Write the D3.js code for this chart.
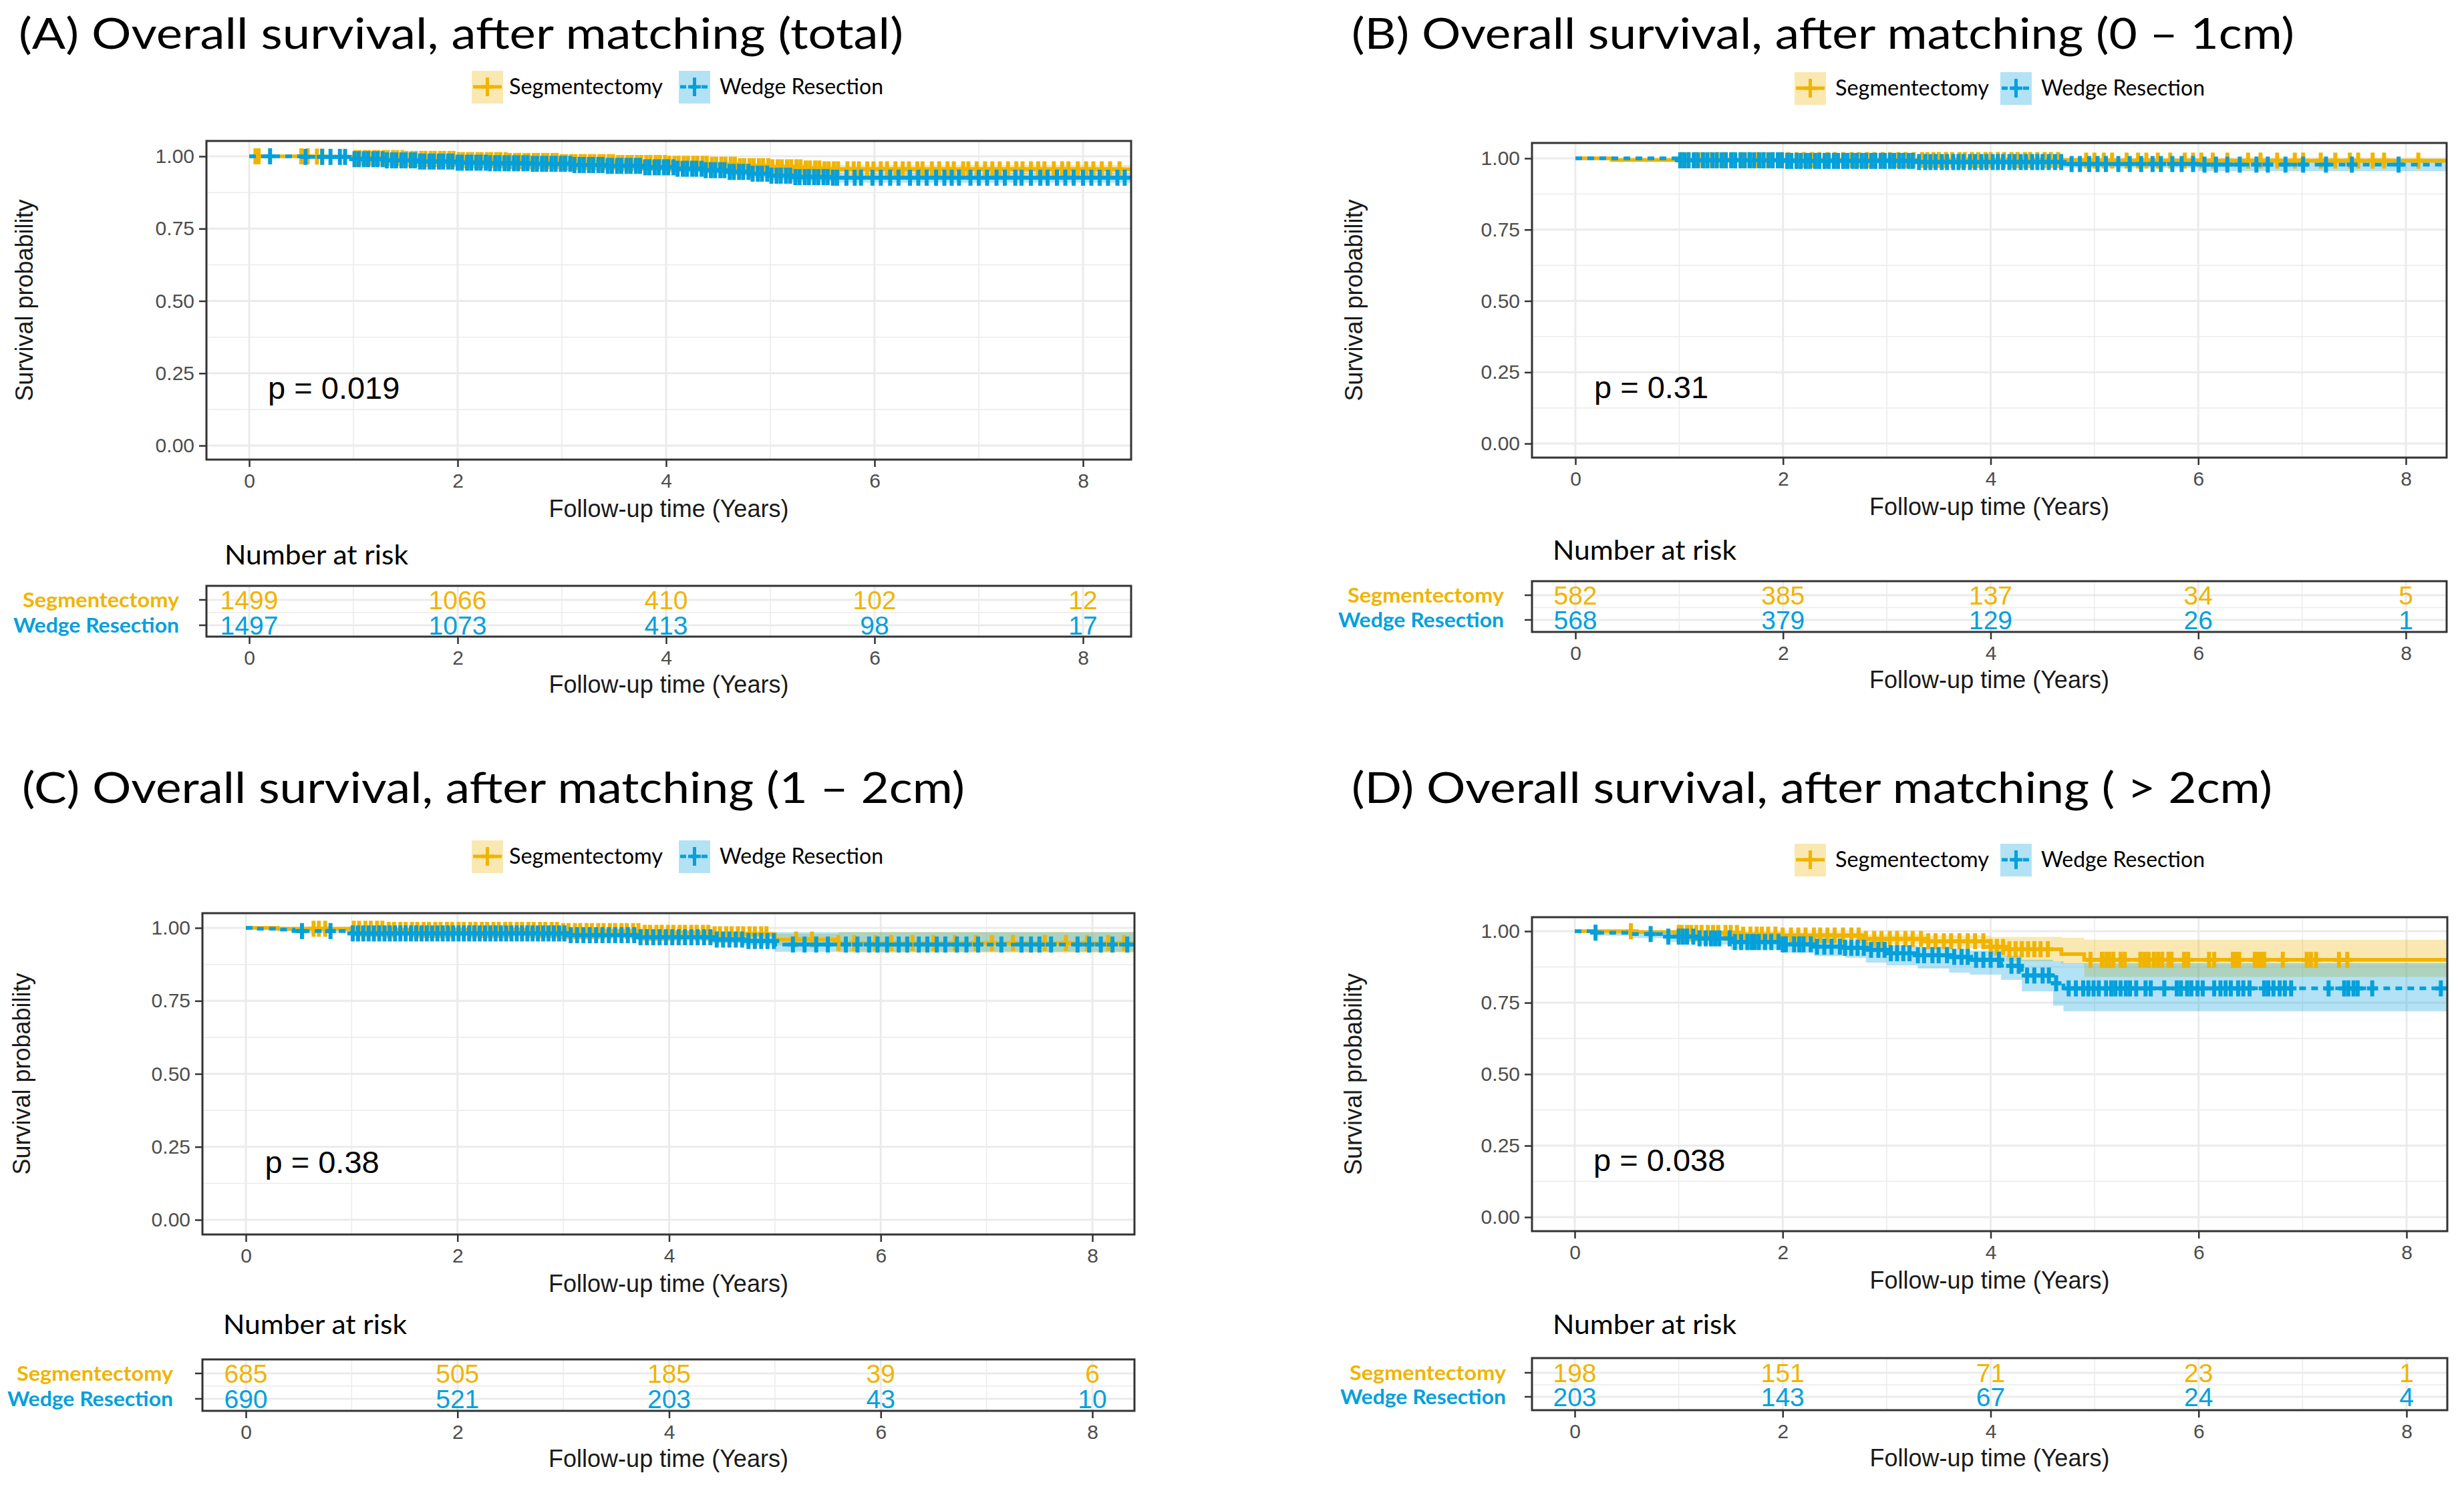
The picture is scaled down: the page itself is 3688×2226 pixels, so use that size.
<!DOCTYPE html>
<html>
<head>
<meta charset="utf-8">
<script src="https://cdn.jsdelivr.net/npm/d3@7"></script>
<style>
  body { margin: 0; background: #fff; }
</style>
</head>
<body>
<script>
// ---- data ----
var groups = ["Segmentectomy", "Wedge Resection"];
var xTicks = [0, 2, 4, 6, 8];
var yTicks = [0, 0.25, 0.5, 0.75, 1];
var riskTimes = [0, 2, 4, 6, 8];
var titles = [
  "(A) Overall survival, after matching (total)",
  "(B) Overall survival, after matching (0 \u2013 1cm)",
  "(C) Overall survival, after matching (1 \u2013 2cm)",
  "(D) Overall survival, after matching ( > 2cm)"
];
var pValues = ["p = 0.019", "p = 0.31", "p = 0.38", "p = 0.038"];

// (A) total
var aSegTime   = [0, 0.6, 1.0, 1.5, 2.0, 2.5, 3.0, 3.5, 4.0, 4.4, 4.7, 5.0, 5.3, 5.5];
var aSegSurv   = [1, 0.999, 0.994, 0.991, 0.987, 0.984, 0.980, 0.977, 0.974, 0.971, 0.966, 0.962, 0.958, 0.955];
var aSegLower  = [1, 0.997, 0.990, 0.986, 0.981, 0.977, 0.972, 0.968, 0.964, 0.960, 0.954, 0.949, 0.944, 0.940];
var aSegUpper  = [1, 1, 0.998, 0.996, 0.993, 0.991, 0.988, 0.986, 0.984, 0.982, 0.978, 0.975, 0.972, 0.970];
var aSegCensor = [0.06, 0.09, 0.5, 0.56, 0.65, 0.7,
  1.02, 1.06, 1.11, 1.15, 1.2, 1.24, 1.29, 1.33, 1.38, 1.42, 1.47, 1.51, 1.56, 1.6, 1.65, 1.69, 1.74, 1.78, 1.83, 1.87, 1.92, 1.96,
  2.01, 2.05, 2.1, 2.14, 2.19, 2.23, 2.28, 2.32, 2.37, 2.41, 2.46, 2.5, 2.55, 2.59, 2.64, 2.68, 2.73, 2.77, 2.82, 2.86, 2.91, 2.95,
  3.0, 3.04, 3.09, 3.13, 3.18, 3.22, 3.27, 3.31, 3.36, 3.4, 3.45, 3.49, 3.54, 3.58, 3.63, 3.67, 3.72, 3.76, 3.81, 3.85, 3.9, 3.94,
  3.99, 4.03, 4.08, 4.12, 4.17, 4.21, 4.26, 4.3, 4.35, 4.39, 4.44, 4.48, 4.53, 4.57, 4.62, 4.66, 4.71, 4.75, 4.8, 4.84, 4.89, 4.93,
  4.98, 5.02, 5.07, 5.11, 5.16, 5.2, 5.25, 5.29, 5.34, 5.38, 5.43, 5.47, 5.52, 5.56, 5.61, 5.65,
  5.74, 5.8, 5.85, 5.93, 5.99, 6.06, 6.12, 6.2, 6.27, 6.33, 6.41, 6.46, 6.55, 6.62, 6.7, 6.76, 6.85, 6.9, 6.98, 7.06, 7.13, 7.2,
  7.28, 7.36, 7.42, 7.5, 7.57, 7.63, 7.72, 7.8, 7.86, 7.95, 8.03, 8.1, 8.18, 8.26, 8.35];
var aWedgeTime   = [0, 0.5, 1.0, 1.3, 1.6, 2.0, 2.3, 2.7, 3.1, 3.4, 3.8, 4.1, 4.35, 4.6, 4.8, 5.0, 5.2, 5.6];
var aWedgeSurv   = [1, 0.998, 0.990, 0.986, 0.982, 0.978, 0.976, 0.974, 0.970, 0.967, 0.962, 0.957, 0.952, 0.946, 0.940, 0.933, 0.928, 0.926];
var aWedgeLower  = [1, 0.996, 0.985, 0.980, 0.976, 0.971, 0.968, 0.966, 0.961, 0.957, 0.952, 0.946, 0.940, 0.933, 0.926, 0.918, 0.912, 0.909];
var aWedgeUpper  = [1, 1, 0.995, 0.991, 0.988, 0.984, 0.982, 0.981, 0.978, 0.975, 0.971, 0.967, 0.963, 0.958, 0.953, 0.947, 0.943, 0.942];
var aWedgeCensor = [0.2, 0.54, 0.7, 0.78, 0.87, 0.92,
  1.01, 1.05, 1.1, 1.14, 1.19, 1.23, 1.28, 1.32, 1.37, 1.41, 1.46, 1.5, 1.55, 1.59, 1.64, 1.68, 1.73, 1.77, 1.82, 1.86, 1.91, 1.95,
  2.0, 2.04, 2.09, 2.13, 2.18, 2.22, 2.27, 2.31, 2.36, 2.4, 2.45, 2.49, 2.54, 2.58, 2.63, 2.67, 2.72, 2.76, 2.81, 2.85, 2.9, 2.94,
  2.99, 3.03, 3.08, 3.12, 3.17, 3.21, 3.26, 3.3, 3.35, 3.39, 3.44, 3.48, 3.53, 3.57, 3.62, 3.66, 3.71, 3.75, 3.8, 3.84, 3.89, 3.93,
  3.98, 4.02, 4.07, 4.11, 4.16, 4.2, 4.25, 4.29, 4.34, 4.38, 4.43, 4.47, 4.52, 4.56, 4.61, 4.65, 4.7, 4.74, 4.79, 4.83, 4.88, 4.92,
  4.97, 5.01, 5.06, 5.1, 5.15, 5.19, 5.24, 5.28, 5.33, 5.37, 5.42, 5.46, 5.51, 5.55, 5.6, 5.64,
  5.73, 5.81, 5.87, 5.98, 6.06, 6.15, 6.23, 6.34, 6.42, 6.5, 6.59, 6.67, 6.74, 6.81, 6.92, 7.0, 7.08, 7.17, 7.25, 7.35, 7.41, 7.5,
  7.59, 7.66, 7.75, 7.83, 7.91, 8.0, 8.08, 8.16, 8.24, 8.33, 8.4];
var aSegRisk   = [1499, 1066, 410, 102, 12];
var aWedgeRisk = [1497, 1073, 413, 98, 17];

// (B) 0 - 1 cm
var bSegTime   = [0, 0.35, 4.9];
var bSegSurv   = [1, 0.994, 0.992];
var bSegLower  = [1, 0.988, 0.984];
var bSegUpper  = [1, 1, 1];
var bSegCensor = [1.03, 1.09, 1.16, 1.22, 1.3, 1.37, 1.44, 1.52, 1.6, 1.67, 1.75, 1.82, 1.9, 1.98, 2.05, 2.13, 2.2, 2.28, 2.35,
  2.43, 2.5, 2.58, 2.66, 2.73, 2.81, 2.88, 2.96, 3.03, 3.11, 3.18, 3.26, 3.34, 3.39, 3.45, 3.5, 3.57, 3.63, 3.7, 3.75, 3.82, 3.88,
  3.95, 4.0, 4.07, 4.13, 4.2, 4.26, 4.33, 4.38, 4.45, 4.52, 4.58, 4.65,
  4.92, 5.0, 5.09, 5.17, 5.31, 5.42, 5.5, 5.61, 5.73, 5.87, 5.95, 6.03, 6.14, 6.28, 6.48, 6.6, 6.76, 6.93, 7.01, 7.18, 7.32,
  7.46, 7.54, 7.68, 7.79, 8.12];
var bWedgeTime   = [0, 1.0, 2.0, 3.3, 4.7, 6.0];
var bWedgeSurv   = [1, 0.993, 0.991, 0.987, 0.980, 0.978];
var bWedgeLower  = [1, 0.986, 0.983, 0.978, 0.966, 0.955];
var bWedgeUpper  = [1, 1, 0.998, 0.995, 0.992, 0.992];
var bWedgeCensor = [1.01, 1.05, 1.09, 1.14, 1.18, 1.23, 1.27, 1.32, 1.36, 1.41, 1.45, 1.5, 1.54, 1.59, 1.63, 1.68, 1.72, 1.77,
  1.81, 1.86, 1.9, 1.95, 1.99, 2.04, 2.08, 2.13, 2.17, 2.22, 2.26, 2.31, 2.35, 2.4, 2.44, 2.49, 2.53, 2.58, 2.62, 2.67, 2.71,
  2.76, 2.8, 2.85, 2.89, 2.94, 2.98, 3.03, 3.07, 3.12, 3.16, 3.21, 3.25, 3.31, 3.37, 3.42, 3.47, 3.53, 3.58, 3.64, 3.69, 3.74,
  3.8, 3.85, 3.91, 3.96, 4.02, 4.07, 4.12, 4.18, 4.23, 4.29, 4.34, 4.4, 4.45, 4.5, 4.56, 4.62, 4.68,
  4.78, 4.86, 4.95, 5.03, 5.11, 5.23, 5.34, 5.45, 5.56, 5.64, 5.75, 5.84, 5.95, 6.06, 6.17, 6.28, 6.4, 6.56, 6.67, 6.84,
  7.01, 7.23, 7.48, 7.93];
var bSegRisk   = [582, 385, 137, 34, 5];
var bWedgeRisk = [568, 379, 129, 26, 1];

// (C) 1 - 2 cm
var cSegTime   = [0, 0.3, 1.35, 3.0, 3.75, 4.4, 5.0, 5.6];
var cSegSurv   = [1, 0.997, 0.993, 0.989, 0.983, 0.978, 0.960, 0.948];
var cSegLower  = [1, 0.993, 0.987, 0.982, 0.975, 0.969, 0.940, 0.915];
var cSegUpper  = [1, 1, 0.999, 0.996, 0.992, 0.988, 0.980, 0.986];
var cSegCensor = [0.64, 0.69, 0.75,
  1.02, 1.07, 1.13, 1.18, 1.24, 1.29, 1.35, 1.4, 1.46, 1.51, 1.57, 1.62, 1.68, 1.73, 1.79, 1.84, 1.9, 1.95, 2.01, 2.06, 2.12,
  2.17, 2.23, 2.28, 2.34, 2.39, 2.45, 2.5, 2.56, 2.61, 2.67, 2.72, 2.78, 2.83, 2.89, 2.94, 3.0, 3.05, 3.11, 3.16, 3.22, 3.27,
  3.33, 3.38, 3.44, 3.49, 3.55, 3.6, 3.66, 3.71, 3.77, 3.82, 3.88, 3.93, 3.99, 4.04, 4.1, 4.15, 4.21, 4.26, 4.32, 4.37, 4.43,
  4.48, 4.54, 4.59, 4.65, 4.7, 4.76, 4.81, 4.87, 4.92,
  5.2, 5.35, 5.6, 5.75, 5.95, 6.1, 6.3, 6.5, 6.7, 6.9, 7.05, 7.25, 7.55, 7.75, 7.95, 8.15, 8.3];
var cWedgeTime   = [0, 0.1, 0.3, 0.45, 1.0, 3.05, 3.7, 4.4, 4.7, 5.0];
var cWedgeSurv   = [1, 0.997, 0.994, 0.989, 0.981, 0.975, 0.968, 0.960, 0.955, 0.943];
var cWedgeLower  = [1, 0.992, 0.988, 0.982, 0.974, 0.966, 0.957, 0.947, 0.940, 0.918];
var cWedgeUpper  = [1, 1, 1, 0.996, 0.988, 0.984, 0.979, 0.973, 0.970, 0.985];
var cWedgeCensor = [0.53, 0.8,
  1.01, 1.06, 1.11, 1.16, 1.21, 1.26, 1.31, 1.36, 1.41, 1.46, 1.51, 1.56, 1.61, 1.66, 1.71, 1.76, 1.81, 1.86, 1.91, 1.96, 2.01,
  2.06, 2.11, 2.16, 2.21, 2.26, 2.31, 2.36, 2.41, 2.46, 2.51, 2.56, 2.61, 2.66, 2.71, 2.76, 2.81, 2.86, 2.91, 2.96, 3.01, 3.07,
  3.13, 3.19, 3.25, 3.31, 3.37, 3.43, 3.49, 3.55, 3.61, 3.67, 3.73, 3.79, 3.85, 3.91, 3.97, 4.03, 4.09, 4.15, 4.21, 4.27, 4.33,
  4.39, 4.45, 4.51, 4.57, 4.63, 4.69, 4.75, 4.81, 4.87, 4.93, 4.99,
  5.17, 5.28, 5.39, 5.5, 5.67, 5.78, 5.89, 5.97, 6.06, 6.17, 6.25, 6.36, 6.44, 6.53, 6.61, 6.72, 6.81, 6.92, 7.14, 7.33, 7.42,
  7.5, 7.61, 7.86, 7.97, 8.08, 8.19, 8.33];
var cSegRisk   = [685, 505, 185, 39, 6];
var cWedgeRisk = [690, 521, 203, 43, 10];

// (D) > 2 cm
var dSegTime   = [0, 0.6, 1.0, 1.6, 2.0, 2.8, 3.4, 4.0, 4.15, 4.68, 4.9];
var dSegSurv   = [1, 0.997, 0.994, 0.988, 0.985, 0.973, 0.965, 0.945, 0.937, 0.920, 0.900];
var dSegLower  = [1, 0.990, 0.984, 0.974, 0.969, 0.953, 0.942, 0.912, 0.895, 0.886, 0.840];
var dSegUpper  = [1, 1, 1, 0.998, 0.996, 0.990, 0.985, 0.980, 0.980, 0.977, 0.970];
var dSegCensor = [0.54, 1.0, 1.03, 1.08, 1.12, 1.17, 1.22, 1.28, 1.33, 1.38, 1.45, 1.5, 1.56, 1.62, 1.69, 1.75, 1.8, 1.86,
  1.93, 2.0, 2.08, 2.15, 2.22, 2.3, 2.36, 2.43, 2.5, 2.58, 2.66, 2.73, 2.8, 2.88, 2.95, 3.03, 3.1, 3.18, 3.25, 3.33, 3.4, 3.47,
  3.55, 3.62, 3.7, 3.78, 3.85, 3.93, 4.0, 4.06, 4.12, 4.18, 4.24, 4.3, 4.36, 4.42, 4.48, 4.55,
  4.96, 5.07, 5.11, 5.14, 5.18, 5.25, 5.29, 5.44, 5.48, 5.52, 5.57, 5.61, 5.65, 5.71, 5.74, 5.86, 5.9, 6.1, 6.15, 6.33, 6.36,
  6.39, 6.54, 6.57, 6.6, 6.63, 6.81, 7.04, 7.08, 7.13, 7.35, 7.43];
var dWedgeTime   = [0, 0.2, 0.55, 0.9, 1.2, 1.5, 2.0, 2.3, 2.6, 2.8, 3.0, 3.3, 3.6, 3.8, 4.1, 4.3, 4.6, 4.7];
var dWedgeSurv   = [1, 0.995, 0.990, 0.981, 0.975, 0.962, 0.954, 0.946, 0.942, 0.935, 0.923, 0.916, 0.910, 0.900, 0.879, 0.845, 0.818, 0.800];
var dWedgeLower  = [1, 0.985, 0.976, 0.962, 0.953, 0.936, 0.925, 0.913, 0.907, 0.890, 0.880, 0.870, 0.855, 0.848, 0.830, 0.790, 0.740, 0.720];
var dWedgeUpper  = [1, 1, 1, 0.995, 0.990, 0.980, 0.975, 0.969, 0.966, 0.960, 0.951, 0.945, 0.940, 0.932, 0.915, 0.900, 0.895, 0.888];
var dWedgeCensor = [0.2, 0.73, 0.9, 1.0, 1.04, 1.08, 1.14, 1.2, 1.26, 1.31, 1.35, 1.39, 1.49, 1.54, 1.6, 1.66, 1.7, 1.73,
  1.77, 1.83, 1.89, 1.96, 2.0, 2.03, 2.11, 2.16, 2.2, 2.27, 2.33, 2.4, 2.47, 2.55, 2.6, 2.66, 2.72, 2.78, 2.85, 2.92, 2.98,
  3.04, 3.1, 3.16, 3.22, 3.3, 3.36, 3.44, 3.5, 3.58, 3.65, 3.72, 3.78, 3.86, 3.93, 4.0, 4.08, 4.2, 4.27, 4.35, 4.42, 4.5,
  4.56, 4.63,
  4.75, 4.82, 4.89, 4.94, 4.99, 5.04, 5.11, 5.16, 5.2, 5.25, 5.3, 5.34, 5.4, 5.49, 5.54, 5.67, 5.79, 5.83, 5.89, 5.93, 5.99,
  6.04, 6.15, 6.21, 6.26, 6.31, 6.38, 6.43, 6.49, 6.63, 6.67, 6.72, 6.78, 6.83, 6.89, 7.25, 7.4, 7.44, 7.49, 7.53, 7.67, 8.33];
var dSegRisk   = [198, 151, 71, 23, 1];
var dWedgeRisk = [203, 143, 67, 24, 4];

// ---- look ----
var width = 3688, height = 2226;
var segColor = "#F0B400", wedgeColor = "#03A0DC";
var colors = [segColor, wedgeColor];
var rFont = "'Liberation Sans', Arial, sans-serif";
var offFont = "Lato, 'Open Sans', sans-serif";
var gridColor = "#EBEBEB";
var frameColor = "#333333";

// where each panel sits on the page
var layouts = [
  { titleX: 28, titleY: 73, titleW: 1324, legY: 130, legX: [706, 762, 1016, 1077],
    left: 309, right: 1693, top: 211, bottom: 688, x0: 373, x8: 1621, y0: 667, y1: 234, yTitleX: 37,
    narX: 336, narY: 845, riskTop: 877, riskBottom: 953, rows: [898, 936], labelX: 268 },
  { titleX: 2023, titleY: 73, titleW: 1411, legY: 132, legX: [2686, 2747, 2994, 3055],
    left: 2293, right: 3662, top: 214, bottom: 685, x0: 2358, x8: 3601, y0: 664, y1: 237, yTitleX: 2027,
    narX: 2324, narY: 838, riskTop: 870, riskBottom: 946, rows: [891, 928], labelX: 2251 },
  { titleX: 33, titleY: 1202, titleW: 1411, legY: 1282, legX: [706, 762, 1016, 1077],
    left: 303, right: 1698, top: 1367, bottom: 1848, x0: 368, x8: 1635, y0: 1826, y1: 1389, yTitleX: 33,
    narX: 334, narY: 1997, riskTop: 2035, riskBottom: 2112, rows: [2056, 2094], labelX: 259 },
  { titleX: 2023, titleY: 1202, titleW: 1378, legY: 1287, legX: [2686, 2747, 2994, 3055],
    left: 2293, right: 3663, top: 1373, bottom: 1843, x0: 2357, x8: 3602, y0: 1822, y1: 1394, yTitleX: 2026,
    narX: 2324, narY: 1997, riskTop: 2033, riskBottom: 2111, rows: [2055, 2091], labelX: 2254 }
];

function curve(time, surv, lower, upper, censor) {
  return { time: time, surv: surv, lower: lower, upper: upper, censor: censor };
}

var panels = [
  { title: titles[0], p: pValues[0], risk: [aSegRisk, aWedgeRisk],
    curves: [curve(aSegTime, aSegSurv, aSegLower, aSegUpper, aSegCensor),
             curve(aWedgeTime, aWedgeSurv, aWedgeLower, aWedgeUpper, aWedgeCensor)] },
  { title: titles[1], p: pValues[1], risk: [bSegRisk, bWedgeRisk],
    curves: [curve(bSegTime, bSegSurv, bSegLower, bSegUpper, bSegCensor),
             curve(bWedgeTime, bWedgeSurv, bWedgeLower, bWedgeUpper, bWedgeCensor)] },
  { title: titles[2], p: pValues[2], risk: [cSegRisk, cWedgeRisk],
    curves: [curve(cSegTime, cSegSurv, cSegLower, cSegUpper, cSegCensor),
             curve(cWedgeTime, cWedgeSurv, cWedgeLower, cWedgeUpper, cWedgeCensor)] },
  { title: titles[3], p: pValues[3], risk: [dSegRisk, dWedgeRisk],
    curves: [curve(dSegTime, dSegSurv, dSegLower, dSegUpper, dSegCensor),
             curve(dWedgeTime, dWedgeSurv, dWedgeLower, dWedgeUpper, dWedgeCensor)] }
];

var svg = d3.select("body").append("svg")
  .attr("width", width)
  .attr("height", height)
  .style("display", "block");

svg.append("rect").attr("width", width).attr("height", height).attr("fill", "#fff");

// step lookup for a censor mark
function survAt(c, t) {
  var i = d3.bisectRight(c.time, t) - 1;
  return c.surv[Math.max(0, i)];
}

function styleAxis(ax) {
  ax.select(".domain").remove();
  ax.selectAll(".tick line").attr("stroke", frameColor).attr("stroke-width", 2.5);
  ax.selectAll(".tick text")
    .attr("fill", "#4D4D4D")
    .attr("font-family", rFont)
    .attr("font-size", 30);
}

function drawGrid(g, x, y0, y1, left, right, hLines) {
  [1, 3, 5, 7].forEach(function(t) {
    g.append("line").attr("x1", x(t)).attr("x2", x(t)).attr("y1", y0).attr("y2", y1)
      .attr("stroke", gridColor).attr("stroke-width", 1.5);
  });
  xTicks.forEach(function(t) {
    g.append("line").attr("x1", x(t)).attr("x2", x(t)).attr("y1", y0).attr("y2", y1)
      .attr("stroke", gridColor).attr("stroke-width", 3);
  });
  hLines.forEach(function(h) {
    g.append("line").attr("x1", left).attr("x2", right).attr("y1", h[0]).attr("y2", h[0])
      .attr("stroke", gridColor).attr("stroke-width", h[1]);
  });
}

function drawPanel(p, k) {
  var L = layouts[k];
  var g = svg.append("g").attr("class", "panel panel-" + k);
  var x = d3.scaleLinear().domain([0, 8]).range([L.x0, L.x8]);
  var y = d3.scaleLinear().domain([0, 1]).range([L.y0, L.y1]);
  var tEnd = x.invert(L.right) + 0.1;

  // panel title
  g.append("text")
    .attr("x", L.titleX).attr("y", L.titleY)
    .attr("font-family", offFont).attr("font-size", 63)
    .attr("textLength", L.titleW).attr("lengthAdjust", "spacingAndGlyphs")
    .text(p.title);

  // legend
  groups.forEach(function(name, i) {
    var kx = L.legX[i * 2], tx = L.legX[i * 2 + 1];
    var key = g.append("g");
    key.append("rect")
      .attr("x", kx).attr("y", L.legY - 24).attr("width", 47).attr("height", 49)
      .attr("fill", colors[i]).attr("fill-opacity", 0.3);
    key.append("line")
      .attr("x1", kx + 2).attr("x2", kx + 45).attr("y1", L.legY).attr("y2", L.legY)
      .attr("stroke", colors[i]).attr("stroke-width", 5)
      .attr("stroke-dasharray", i === 1 ? "9,7" : null);
    key.append("line")
      .attr("x1", kx + 23.5).attr("x2", kx + 23.5).attr("y1", L.legY - 14).attr("y2", L.legY + 14)
      .attr("stroke", colors[i]).attr("stroke-width", 5);
    key.append("line")
      .attr("x1", kx + 14).attr("x2", kx + 33).attr("y1", L.legY).attr("y2", L.legY)
      .attr("stroke", colors[i]).attr("stroke-width", 5);
    g.append("text")
      .attr("x", tx).attr("y", L.legY + 11)
      .attr("font-family", offFont).attr("font-size", 32)
      .attr("textLength", i === 0 ? 230 : 245).attr("lengthAdjust", "spacingAndGlyphs")
      .text(name);
  });

  // survival panel
  var clipId = "clip" + k;
  svg.append("clipPath").attr("id", clipId).append("rect")
    .attr("x", L.left).attr("y", L.top)
    .attr("width", L.right - L.left).attr("height", L.bottom - L.top);

  var plot = g.append("g").attr("clip-path", "url(#" + clipId + ")");
  var hLines = [];
  [0.125, 0.375, 0.625, 0.875].forEach(function(v) { hLines.push([y(v), 1.5]); });
  yTicks.forEach(function(v) { hLines.push([y(v), 3]); });
  drawGrid(plot, x, L.top, L.bottom, L.left, L.right, hLines);

  var area = d3.area()
    .x(function(d) { return x(d[0]); })
    .y0(function(d) { return y(d[1]); })
    .y1(function(d) { return y(d[2]); })
    .curve(d3.curveStepAfter);
  var line = d3.line()
    .x(function(d) { return x(d[0]); })
    .y(function(d) { return y(d[1]); })
    .curve(d3.curveStepAfter);

  p.curves.forEach(function(c, i) {
    var band = c.time.map(function(t, j) { return [t, c.lower[j], c.upper[j]]; });
    band.push([tEnd, c.lower[c.lower.length - 1], c.upper[c.upper.length - 1]]);
    plot.append("path").attr("d", area(band))
      .attr("fill", colors[i]).attr("fill-opacity", 0.3);
  });

  p.curves.forEach(function(c, i) {
    var pts = c.time.map(function(t, j) { return [t, c.surv[j]]; });
    pts.push([tEnd, c.surv[c.surv.length - 1]]);
    plot.append("path").attr("d", line(pts))
      .attr("fill", "none").attr("stroke", colors[i]).attr("stroke-width", 5.5)
      .attr("stroke-dasharray", i === 1 ? "10,8" : null);

    // censor "+" marks
    var marks = plot.append("g").attr("stroke", colors[i]).attr("stroke-width", 6);
    c.censor.forEach(function(t) {
      var cx = x(t), cy = y(survAt(c, t));
      marks.append("line").attr("x1", cx).attr("x2", cx).attr("y1", cy - 12).attr("y2", cy + 12);
      marks.append("line").attr("x1", cx - 8).attr("x2", cx + 8).attr("y1", cy).attr("y2", cy);
    });
  });

  g.append("rect")
    .attr("x", L.left).attr("y", L.top)
    .attr("width", L.right - L.left).attr("height", L.bottom - L.top)
    .attr("fill", "none").attr("stroke", frameColor).attr("stroke-width", 3);

  var yAxis = g.append("g").attr("transform", "translate(" + L.left + ",0)")
    .call(d3.axisLeft(y).tickValues(yTicks).tickFormat(d3.format(".2f")).tickSize(11).tickPadding(7));
  styleAxis(yAxis);
  var xAxis = g.append("g").attr("transform", "translate(0," + L.bottom + ")")
    .call(d3.axisBottom(x).tickValues(xTicks).tickFormat(d3.format("d")).tickSize(11).tickPadding(10));
  styleAxis(xAxis);

  g.append("text")
    .attr("transform", "translate(" + (L.yTitleX + 12) + "," + ((L.top + L.bottom) / 2) + ") rotate(-90)")
    .attr("text-anchor", "middle")
    .attr("font-family", rFont).attr("font-size", 36).attr("fill", "#1A1A1A")
    .text("Survival probability");
  g.append("text")
    .attr("x", (L.left + L.right) / 2).attr("y", L.bottom + 86)
    .attr("text-anchor", "middle")
    .attr("font-family", rFont).attr("font-size", 36).attr("fill", "#1A1A1A")
    .text("Follow-up time (Years)");

  g.append("text")
    .attr("x", x(0.18)).attr("y", y(0.2))
    .attr("dy", "0.36em")
    .attr("font-family", rFont).attr("font-size", 47).attr("fill", "#000")
    .text(p.p);

  // number at risk table
  g.append("text")
    .attr("x", L.narX).attr("y", L.narY)
    .attr("font-family", offFont).attr("font-size", 40)
    .attr("textLength", 275).attr("lengthAdjust", "spacingAndGlyphs")
    .text("Number at risk");

  var clipR = "clipR" + k;
  svg.append("clipPath").attr("id", clipR).append("rect")
    .attr("x", L.left).attr("y", L.riskTop)
    .attr("width", L.right - L.left).attr("height", L.riskBottom - L.riskTop);
  var table = g.append("g").attr("clip-path", "url(#" + clipR + ")");
  drawGrid(table, x, L.riskTop, L.riskBottom, L.left, L.right,
    [[L.rows[0], 3], [L.rows[1], 3], [(L.rows[0] + L.rows[1]) / 2, 1.5]]);

  p.risk.forEach(function(counts, i) {
    table.selectAll(null).data(counts).enter().append("text")
      .attr("x", function(d, j) { return x(riskTimes[j]); })
      .attr("y", L.rows[i])
      .attr("dy", "0.36em")
      .attr("text-anchor", "middle")
      .attr("font-family", rFont).attr("font-size", 39)
      .attr("fill", colors[i])
      .text(function(d) { return d; });

    g.append("line")
      .attr("x1", L.left - 11).attr("x2", L.left).attr("y1", L.rows[i]).attr("y2", L.rows[i])
      .attr("stroke", frameColor).attr("stroke-width", 2.5);
    g.append("text")
      .attr("x", L.labelX).attr("y", L.rows[i])
      .attr("dy", "0.36em")
      .attr("text-anchor", "end")
      .attr("font-family", offFont).attr("font-size", 31).attr("font-weight", "bold")
      .attr("fill", colors[i])
      .attr("textLength", i === 0 ? 234 : 248).attr("lengthAdjust", "spacingAndGlyphs")
      .text(groups[i]);
  });

  g.append("rect")
    .attr("x", L.left).attr("y", L.riskTop)
    .attr("width", L.right - L.left).attr("height", L.riskBottom - L.riskTop)
    .attr("fill", "none").attr("stroke", frameColor).attr("stroke-width", 3);

  var rAxis = g.append("g").attr("transform", "translate(0," + L.riskBottom + ")")
    .call(d3.axisBottom(x).tickValues(xTicks).tickFormat(d3.format("d")).tickSize(11).tickPadding(10));
  styleAxis(rAxis);
  g.append("text")
    .attr("x", (L.left + L.right) / 2).attr("y", L.riskBottom + 84)
    .attr("text-anchor", "middle")
    .attr("font-family", rFont).attr("font-size", 36).attr("fill", "#1A1A1A")
    .text("Follow-up time (Years)");
}

panels.forEach(drawPanel);
</script>
</body>
</html>
